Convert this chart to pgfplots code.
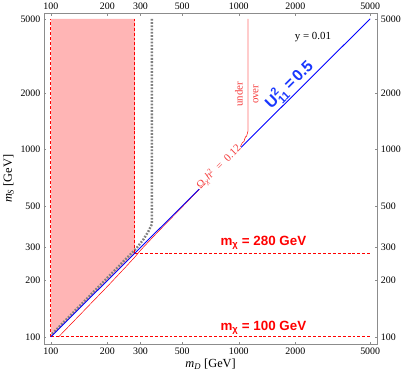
\documentclass[border=0pt]{standalone}
\usepackage{fontspec}
\setmainfont{Liberation Serif}
\setsansfont{Liberation Sans}
\usepackage{amsmath}
\usepackage{pgfplots}
\pgfplotsset{compat=1.18}
\definecolor{pinkfill}{RGB}{255,181,181}
\definecolor{framegray}{RGB}{140,140,140}
\definecolor{dotgray}{RGB}{128,128,128}
\definecolor{ublue}{RGB}{25,55,255}
\definecolor{lred}{RGB}{255,110,110}
\definecolor{tred}{RGB}{245,60,60}
\definecolor{dred}{RGB}{255,0,0}

\begin{document}
\begin{tikzpicture}
\begin{loglogaxis}[
  scale only axis, width=336bp, height=333bp,
  xmin=91.8, xmax=5465, ymin=91.5, ymax=5340,
  xtick={100,200,300,500,1000,2000,5000},
  ytick={100,200,300,500,1000,2000,5000},
  xticklabels={100,200,300,500,1000,2000,5000},
  yticklabels={100,200,300,500,1000,2000,5000},
  minor xtick={}, minor ytick={},
  tick label style={font=\fontsize{10}{12}\selectfont},
  major tick length=2.5pt,
  tick style={framegray, thin},
  tick align=inside,
  axis line style={framegray, thin},
  xticklabel pos=lower, yticklabel pos=left,
  xlabel={\textit{m}$_{\textit{D}}$ [GeV]},
  ylabel={\textit{m}$_{\textit{S}}$ [GeV]},
  label style={font=\fontsize{12.5}{14}\selectfont},
  xlabel style={yshift=2pt},
]
% excluded region
\addplot[fill=pinkfill, draw=none] coordinates {(100,100) (100,5000) (280,5000) (280,280)};
% gray dotted boundary
\addplot[dotgray, line width=2.4pt, dash pattern=on 1.8pt off 1.5pt] coordinates {
(345,5000) (345,400) (330,365) (310,330) (285,297) (100,102)};
% red dashed lines
\addplot[dred, line width=0.9pt, densely dashed] coordinates {(100,100) (100,5000)};
\addplot[dred, line width=0.9pt, densely dashed] coordinates {(280,280) (280,5000)};
\addplot[dred, line width=0.9pt, densely dashed] coordinates {(280,280) (5000,280)};
\addplot[dred, line width=0.9pt, densely dashed] coordinates {(100,100) (5000,100)};
% relic density curve
\addplot[dred, line width=0.5pt] coordinates {
(110,100) (150,138) (200,186) (250,236) (280,267) (300,290) (350,342) (400,393)
(500,494) (600,597) (700,698) (800,800) (900,902) (1000,1005) (1023,1045)
(1045,1090) (1065,1105) (1085,1170) (1100,1180) (1118,1250)};
\addplot[lred, line width=0.8pt] coordinates {(1118,1250) (1120,1300) (1120,5000)};
% U11^2 = 0.5
\addplot[blue, line width=0.9pt] coordinates {(100,100) (5000,5000)};
% labels
\node[rotate=45, text=tred, fill=white, inner sep=0.5pt, font=\fontsize{11}{12}\selectfont]
  at (axis cs:785,808) {Ω$_{\text{\textit{χ}}}$\textit{h}$^{\text{2}}$\enspace=\enspace0.12};
\node[font=\fontsize{11}{13}\selectfont] at (axis cs:2481,4010) {y = 0.01};
\node[rotate=45, anchor=base west, inner sep=0pt, text=ublue, font=\sffamily\bfseries\fontsize{16}{18}\selectfont]
  at (axis cs:1490,1640) {U$_{\text{11}}^{\text{2}}$\,=\,0.5};
\node[rotate=90, text=tred, font=\fontsize{11}{13}\selectfont] at (axis cs:1000,1977) {under};
\node[rotate=90, text=tred, font=\fontsize{11}{13}\selectfont] at (axis cs:1234,1977) {over};
\node[text=dred, font=\sffamily\bfseries\fontsize{13.5}{15}\selectfont] at (axis cs:1351,317) {m$_{\text{χ}}$ = 280 GeV};
\node[text=dred, font=\sffamily\bfseries\fontsize{13.5}{15}\selectfont] at (axis cs:1351,111.6) {m$_{\text{χ}}$ = 100 GeV};
\end{loglogaxis}
\begin{loglogaxis}[
  scale only axis, width=336bp, height=333bp,
  xmin=91.8, xmax=5465, ymin=91.5, ymax=5340,
  xtick={100,200,300,500,1000,2000,5000},
  ytick={100,200,300,500,1000,2000,5000},
  xticklabels={100,200,300,500,1000,2000,5000},
  yticklabels={100,200,300,500,1000,2000,5000},
  minor xtick={}, minor ytick={},
  tick label style={font=\fontsize{10}{12}\selectfont},
  axis line style={draw=none}, tick style={draw=none},
  xticklabel pos=upper, yticklabel pos=right,
]
\end{loglogaxis}
\end{tikzpicture}
\end{document}
